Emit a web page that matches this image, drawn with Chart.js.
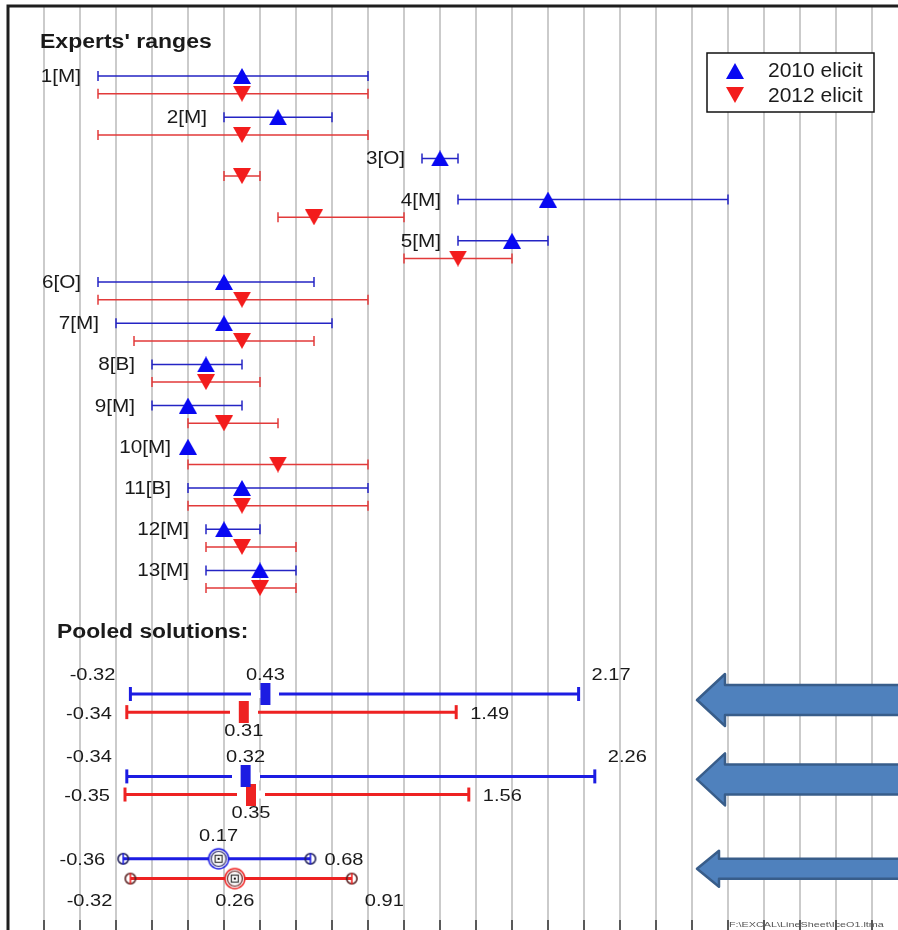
<!DOCTYPE html>
<html>
<head>
<meta charset="utf-8">
<script src="https://cdn.jsdelivr.net/npm/chart.js@4.4.1/dist/chart.umd.min.js"></script>
<style>
  html, body { margin: 0; padding: 0; background: #fff; overflow: hidden; width: 898px; height: 930px; }
  #myChart { position: absolute; left: -2px; top: -4px; }
</style>
</head>
<body>
<canvas id="myChart" width="910" height="944"></canvas>
<script>
// ---- data ----
const experts = ["1[M]", "2[M]", "3[O]", "4[M]", "5[M]", "6[O]", "7[M]", "8[B]", "9[M]", "10[M]", "11[B]", "12[M]", "13[M]"];
const seriesNames = ["2010 elicit", "2012 elicit"];

const low2010  = [-0.5, 0.2, 1.3, 1.5, 1.5, -0.5, -0.4, -0.2, -0.2, null, 0.0, 0.1, 0.1];
const mid2010  = [0.3, 0.5, 1.4, 2.0, 1.8, 0.2, 0.2, 0.1, 0.0, 0.0, 0.3, 0.2, 0.4];
const high2010 = [1.0, 0.8, 1.5, 3.0, 2.0, 0.7, 0.8, 0.3, 0.3, null, 1.0, 0.4, 0.6];

const low2012  = [-0.5, -0.5, 0.2, 0.5, 1.2, -0.5, -0.3, -0.2, 0.0, 0.0, 0.0, 0.1, 0.1];
const mid2012  = [0.3, 0.3, 0.3, 0.7, 1.5, 0.3, 0.3, 0.1, 0.2, 0.5, 0.3, 0.3, 0.4];
const high2012 = [1.0, 1.0, 0.4, 1.2, 1.8, 1.0, 0.7, 0.4, 0.5, 1.0, 1.0, 0.6, 0.6];

const pooledLow2010  = [-0.32, -0.34, -0.36];
const pooledMid2010  = [0.43, 0.32, 0.17];
const pooledHigh2010 = [2.17, 2.26, 0.68];
const pooledLow2012  = [-0.34, -0.35, -0.32];
const pooledMid2012  = [0.31, 0.35, 0.26];
const pooledHigh2012 = [1.49, 1.56, 0.91];
const pooledStyle = ["bar", "bar", "circle"];

// ---- layout ----
// chart.js keeps at least the marker overflow as padding, so the canvas is
// pushed up/left by the difference and everything fixed is drawn in page coords
const pad = 10, pageLeft = 8, pageTop = 6, pageW = 898, pageH = 930;
const ox = pad - pageLeft, oy = pad - pageTop;
const unitPx = 180;
const xMin = -1.0, xMax = xMin + (pageW - pageLeft) / unitPx, xStep = 0.2;
const rowPx = 41.2, firstRowPx = 76;
const yMin = -(firstRowPx - pageTop) / rowPx;
const yMax = yMin + (pageH - pageTop) / rowPx;

const BLUE_LINE = "#2424c4", RED_LINE = "#e23a3a";
const BLUE_MARK = "#0808f2", RED_MARK = "#f31c1c";
const BLUE_POOL = "#1c1ce2", RED_POOL = "#ee2222";
const FONT = "\"Liberation Sans\", Arial, sans-serif";
const TXT = "#1a1a1a";

const rows2010 = experts.map((e, i) => i);
const rows2012 = experts.map((e, i) => i + 0.43);
const poolRows2010 = pooledStyle.map((s, j) => experts.length + 2 + 2 * j);
const poolRows2012 = poolRows2010.map((r, j) => r + (pooledStyle[j] === "circle" ? 0.48 : 0.44));

function segments(lows, highs, rows, keep) {
  const pts = [];
  lows.forEach((lo, i) => {
    if (lo === null || (keep && !keep(i))) return;
    pts.push({ x: lo, y: rows[i] }, { x: highs[i], y: rows[i] }, { x: null, y: null });
  });
  return pts;
}

function ends(lows, highs, rows, keep) {
  const pts = [];
  lows.forEach((lo, i) => {
    if (lo === null || (keep && !keep(i))) return;
    pts.push({ x: lo, y: rows[i] }, { x: highs[i], y: rows[i] });
  });
  return pts;
}

function mids(values, rows, keep) {
  return values.map((v, i) => ({ x: v, y: rows[i] })).filter((p, i) => !keep || keep(i));
}

function makeMarker(w, h, draw) {
  const c = document.createElement("canvas");
  c.width = w;
  c.height = h;
  draw(c.getContext("2d"));
  return c;
}

const upTriangle = makeMarker(18, 16, g => {
  g.fillStyle = BLUE_MARK;
  g.beginPath(); g.moveTo(9, 0); g.lineTo(18, 16); g.lineTo(0, 16); g.closePath(); g.fill();
});
const downTriangle = makeMarker(18, 16, g => {
  g.fillStyle = RED_MARK;
  g.beginPath(); g.moveTo(0, 0); g.lineTo(18, 0); g.lineTo(9, 16); g.closePath(); g.fill();
});

function poolBar(color) {
  return makeMarker(28, 22, g => {
    g.fillStyle = "#fff";
    g.fillRect(0, 7, 28, 8);
    g.fillStyle = color;
    g.fillRect(9, 0, 10, 22);
  });
}

function poolRing(color, dark) {
  return makeMarker(24, 24, g => {
    g.fillStyle = "#fff";
    g.beginPath(); g.arc(12, 12, 9.5, 0, Math.PI * 2); g.fill();
    g.lineWidth = 1.5;
    g.strokeStyle = color;
    g.beginPath(); g.arc(12, 12, 10, 0, Math.PI * 2); g.stroke();
    g.strokeStyle = dark;
    g.lineWidth = 1.2;
    g.beginPath(); g.arc(12, 12, 7.5, 0, Math.PI * 2); g.stroke();
    g.strokeStyle = "#333";
    g.strokeRect(8.5, 8.5, 7, 7);
    g.fillStyle = "#111";
    g.fillRect(11, 11, 2, 2);
  });
}

function poolCap(color, dark) {
  return makeMarker(14, 14, g => {
    g.lineWidth = 1.6;
    g.strokeStyle = dark;
    g.beginPath(); g.arc(7, 7, 5.2, 0, Math.PI * 2); g.stroke();
    g.strokeStyle = color;
    g.beginPath(); g.moveTo(7, 1.5); g.lineTo(7, 12.5); g.stroke();
  });
}

const isBar = j => pooledStyle[j] === "bar";
const isCircle = j => pooledStyle[j] === "circle";

function lineSet(data, color, width) {
  return { data, showLine: true, borderColor: color, borderWidth: width, pointRadius: 0, order: 6 };
}
function capSet(data, color, radius, width) {
  return { data, pointStyle: "line", pointRotation: 90, pointRadius: radius,
    pointBorderColor: color, pointBorderWidth: width, order: 5 };
}
function imageSet(data, image, order) {
  return { data, pointStyle: image, pointRadius: 5, order };
}

const datasets = [
  lineSet(segments(low2010, high2010, rows2010), BLUE_LINE, 1.5),
  lineSet(segments(low2012, high2012, rows2012), RED_LINE, 1.5),
  capSet(ends(low2010, high2010, rows2010), BLUE_LINE, 5, 1.5),
  capSet(ends(low2012, high2012, rows2012), RED_LINE, 5, 1.5),
  imageSet(mids(mid2010, rows2010), upTriangle, 2),
  imageSet(mids(mid2012, rows2012), downTriangle, 1),

  lineSet(segments(pooledLow2010, pooledHigh2010, poolRows2010), BLUE_POOL, 3),
  lineSet(segments(pooledLow2012, pooledHigh2012, poolRows2012), RED_POOL, 3),
  capSet(ends(pooledLow2010, pooledHigh2010, poolRows2010, isBar), BLUE_POOL, 7, 3),
  capSet(ends(pooledLow2012, pooledHigh2012, poolRows2012, isBar), RED_POOL, 7, 3),
  imageSet(ends(pooledLow2010, pooledHigh2010, poolRows2010, isCircle), poolCap(BLUE_POOL, "#20205a"), 4),
  imageSet(ends(pooledLow2012, pooledHigh2012, poolRows2012, isCircle), poolCap(RED_POOL, "#5a2020"), 4),
  imageSet(mids(pooledMid2010, poolRows2010, isBar), poolBar(BLUE_POOL), 2),
  imageSet(mids(pooledMid2012, poolRows2012, isBar), poolBar(RED_POOL), 2),
  imageSet(mids(pooledMid2010, poolRows2010, isCircle), poolRing(BLUE_POOL, "#222266"), 2),
  imageSet(mids(pooledMid2012, poolRows2012, isCircle), poolRing(RED_POOL, "#662222"), 2),
];

function text(ctx, str, x, y, align, size, bold, sx) {
  ctx.save();
  ctx.font = (bold ? "bold " : "") + size + "px " + FONT;
  ctx.fillStyle = TXT;
  ctx.textAlign = align;
  ctx.textBaseline = "middle";
  ctx.translate(x, y);
  ctx.scale(sx, 1);
  ctx.fillText(str, 0, 0);
  ctx.restore();
}

function poolLabel(ctx, value, px, py, kind, circle) {
  const dy = circle ? 22.5 : 19;
  const dx = circle ? 18 : 15;
  const str = value.toFixed(2);
  const spots = {
    aboveLeft: [px - dx, py - dy, "right"],
    above: [px, py - dy, "center"],
    aboveRight: [px + 13, py - dy, "left"],
    left: [px - dx, py + 2, "right"],
    right: [px + 14, py + 2, "left"],
    belowLeft: [px - dx, py + dy, "right"],
    below: [px, py + dy, "center"],
    belowRight: [px + 13, py + dy, "left"],
  };
  const s = spots[kind];
  text(ctx, str, s[0], s[1], s[2], 17, false, 1.18);
}

function arrow(ctx, tipX, cy, headLen, headHalf, shaftHalf) {
  ctx.beginPath();
  ctx.moveTo(tipX, cy);
  ctx.lineTo(tipX + headLen, cy - headHalf);
  ctx.lineTo(tipX + headLen, cy - shaftHalf);
  ctx.lineTo(960, cy - shaftHalf);
  ctx.lineTo(960, cy + shaftHalf);
  ctx.lineTo(tipX + headLen, cy + shaftHalf);
  ctx.lineTo(tipX + headLen, cy + headHalf);
  ctx.closePath();
  ctx.fill();
  ctx.stroke();
}

const overlay = {
  id: "overlay",
  afterDraw(chart) {
    const ctx = chart.ctx;
    const xs = chart.scales.x, ys = chart.scales.y;
    const area = chart.chartArea;

    // ticks along the bottom
    ctx.save();
    ctx.strokeStyle = "#333";
    ctx.lineWidth = 1.5;
    xs.ticks.forEach(t => {
      const px = xs.getPixelForValue(t.value);
      ctx.beginPath(); ctx.moveTo(px, area.bottom - 10); ctx.lineTo(px, area.bottom); ctx.stroke();
    });
    // frame
    ctx.strokeStyle = "#1e1e1e";
    ctx.lineWidth = 3;
    ctx.beginPath();
    ctx.moveTo(area.left, area.bottom);
    ctx.lineTo(area.left, area.top);
    ctx.lineTo(area.right + 5, area.top);
    ctx.stroke();
    ctx.restore();

    // expert labels
    experts.forEach((name, i) => {
      const start = low2010[i] !== null ? low2010[i] : mid2010[i];
      text(ctx, name, xs.getPixelForValue(start) - 17, ys.getPixelForValue(rows2010[i]) + 1, "right", 18, false, 1.15);
    });

    // pooled value labels
    pooledStyle.forEach((style, j) => {
      const c = style === "circle";
      const yb = ys.getPixelForValue(poolRows2010[j]);
      const yr = ys.getPixelForValue(poolRows2012[j]);
      poolLabel(ctx, pooledLow2010[j], xs.getPixelForValue(pooledLow2010[j]), yb, c ? "left" : "aboveLeft", c);
      poolLabel(ctx, pooledMid2010[j], xs.getPixelForValue(pooledMid2010[j]), yb, "above", c);
      poolLabel(ctx, pooledHigh2010[j], xs.getPixelForValue(pooledHigh2010[j]), yb, c ? "right" : "aboveRight", c);
      poolLabel(ctx, pooledLow2012[j], xs.getPixelForValue(pooledLow2012[j]), yr, c ? "belowLeft" : "left", c);
      poolLabel(ctx, pooledMid2012[j], xs.getPixelForValue(pooledMid2012[j]), yr, "below", c);
      poolLabel(ctx, pooledHigh2012[j], xs.getPixelForValue(pooledHigh2012[j]), yr, c ? "belowRight" : "right", c);
    });

    // everything below is placed in page coordinates
    ctx.save();
    ctx.translate(ox, oy);

    text(ctx, "Experts' ranges", 40, 43, "left", 19.5, true, 1.18);
    text(ctx, "Pooled solutions:", 57, 633, "left", 19.5, true, 1.17);

    // legend
    ctx.fillStyle = "#fff";
    ctx.fillRect(707, 53, 167, 59);
    ctx.strokeStyle = "#111";
    ctx.lineWidth = 1.5;
    ctx.strokeRect(707, 53, 167, 59);
    ctx.drawImage(upTriangle, 735 - 9, 71 - 8);
    ctx.drawImage(downTriangle, 735 - 9, 95 - 8);
    text(ctx, seriesNames[0], 768, 71, "left", 21, false, 1);
    text(ctx, seriesNames[1], 768, 96, "left", 21, false, 1);

    // block arrows pointing at the pooled rows
    ctx.fillStyle = "#4f81bd";
    ctx.strokeStyle = "#385d8a";
    ctx.lineWidth = 2.5;
    ctx.lineJoin = "round";
    const shift = [6, 3, 10];
    pooledStyle.forEach((style, j) => {
      const cy = ys.getPixelForValue(poolRows2010[j]) - oy + shift[j];
      if (style === "circle") arrow(ctx, 697, cy, 22, 18, 10);
      else arrow(ctx, 697, cy, 28, 26, 15);
    });

    // file path footer
    ctx.font = "8px " + FONT;
    ctx.fillStyle = "#555";
    ctx.textBaseline = "middle";
    ctx.translate(729, 925);
    ctx.scale(1.35, 1);
    ctx.fillText("F:\\EXCAL\\LineSheet\\IceO1.ltma", 0, 0);
    ctx.restore();
  }
};

const config = {
  type: "scatter",
  data: { datasets },
  options: {
    responsive: false,
    animation: false,
    events: [],
    layout: { padding: pad },
    plugins: { legend: { display: false }, tooltip: { enabled: false } },
    scales: {
      x: {
        type: "linear",
        min: xMin,
        max: xMax,
        ticks: { display: false, stepSize: xStep, includeBounds: false },
        grid: { color: "#cbcbcb", lineWidth: 2, drawTicks: false },
        border: { display: false },
      },
      y: {
        type: "linear",
        display: false,
        reverse: true,
        min: yMin,
        max: yMax,
      },
    },
  },
  plugins: [overlay],
};

const ctx = document.getElementById("myChart");
const myChart = new Chart(ctx, config);
</script>
</body>
</html>
